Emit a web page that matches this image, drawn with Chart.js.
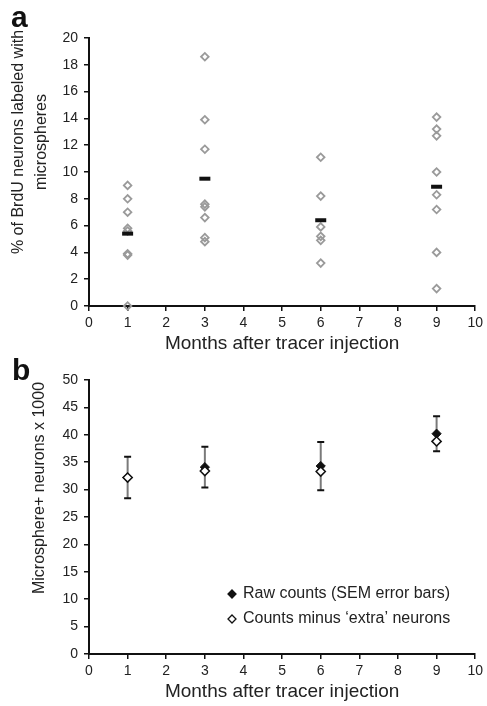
<!DOCTYPE html>
<html lang="en">
<head>
<meta charset="utf-8">
<title>Microsphere labeling after tracer injection</title>
<script src="https://cdn.jsdelivr.net/npm/chart.js@4.4.1/dist/chart.umd.min.js"></script>
<style>
  body { margin: 0; background: #fff; }
  #panelA { position: absolute; left: 0; top: 0; }
  #panelB { position: absolute; left: 0; top: 358px; }
</style>
</head>
<body>
<canvas id="panelA" width="487" height="358"></canvas>
<canvas id="panelB" width="487" height="348"></canvas>
<script>
// Months after tracer injection
const months = [1, 3, 6, 9];

// Panel a: % of BrdU neurons labeled with microspheres, one value per animal
const pctMonth1 = [9.0, 8.0, 7.0, 5.8, 5.6, 3.9, 3.8, 0];
const pctMonth3 = [18.6, 13.9, 11.7, 7.6, 7.4, 6.6, 5.1, 4.8];
const pctMonth6 = [11.1, 8.2, 5.9, 5.2, 4.9, 3.2];
const pctMonth9 = [14.1, 13.2, 12.7, 10.0, 8.3, 7.2, 4.0, 1.3];
const pctMeans = [5.4, 9.5, 6.4, 8.9];

// Panel b: microsphere+ neurons (x 1000)
const rawCounts = [32.2, 34.1, 34.3, 40.2];
const rawSem = [3.8, 3.7, 4.4, 3.2];
const correctedCounts = [32.2, 33.4, 33.3, 38.8];

const seriesLabels = ['Raw counts (SEM error bars)', 'Counts minus \u2018extra\u2019 neurons'];
const xTitle = 'Months after tracer injection';

const FONT = "'Liberation Sans', Arial, sans-serif";

function axis(min, max, step, extra) {
    return Object.assign({
        type: 'linear',
        min: min,
        max: max,
        ticks: { stepSize: step, color: '#222', font: { family: FONT, size: 14 }, padding: 4 },
        grid: { drawOnChartArea: false, drawTicks: true, tickLength: 5, color: '#111', lineWidth: 1.5 },
        border: { display: true, color: '#111', width: 2 }
    }, extra);
}

function xAxis() {
    return axis(0, 10, 1, {
        title: { display: true, text: xTitle, color: '#222', font: { family: FONT, size: 19 }, padding: { top: 0, bottom: 3 } },
        afterFit: function (scale) { scale.height = 52; }
    });
}

function yAxis(max, step) {
    return axis(0, max, step, {
        ticks: { stepSize: step, color: '#222', font: { family: FONT, size: 14 }, padding: 6 },
        afterFit: function (scale) { scale.width = 89; }
    });
}

// panel letter + rotated y title (placed off-centre like the original figure)
const panelText = {
    id: 'panelText',
    afterDraw(chart, args, opts) {
        const ctx = chart.ctx;
        ctx.save();
        ctx.fillStyle = '#111';
        ctx.font = 'bold 30px ' + FONT;
        ctx.fillText(opts.letter, opts.letterX, opts.letterY);
        ctx.fillStyle = '#222';
        ctx.font = '16px ' + FONT;
        ctx.translate(opts.titleX, opts.titleY);
        ctx.rotate(-Math.PI / 2);
        ctx.textAlign = 'center';
        ctx.textBaseline = 'middle';
        opts.title.forEach((line, i) => ctx.fillText(line, 0, i * 23));
        ctx.restore();
    }
};

// vertical SEM bars: grey stem, black caps
const errorBars = {
    id: 'errorBars',
    beforeDatasetsDraw(chart, args, opts) {
        if (!opts.centers) return;
        const { ctx, scales: { x, y } } = chart;
        ctx.save();
        ctx.lineWidth = 2;
        opts.centers.forEach((c, i) => {
            const px = x.getPixelForValue(opts.at[i]);
            const top = y.getPixelForValue(c + opts.sem[i]);
            const bot = y.getPixelForValue(c - opts.sem[i]);
            ctx.strokeStyle = '#7a7a7a';
            ctx.beginPath();
            ctx.moveTo(px, top);
            ctx.lineTo(px, bot);
            ctx.stroke();
            ctx.strokeStyle = '#111';
            ctx.beginPath();
            ctx.moveTo(px - 3.5, top); ctx.lineTo(px + 3.5, top);
            ctx.moveTo(px - 3.5, bot); ctx.lineTo(px + 3.5, bot);
            ctx.stroke();
        });
        ctx.restore();
    }
};

// legend sitting inside the plot area
const insideLegend = {
    id: 'insideLegend',
    afterDraw(chart, args, opts) {
        if (!opts.x) return;
        const ctx = chart.ctx;
        ctx.save();
        ctx.font = '16px ' + FONT;
        ctx.textBaseline = 'middle';
        chart.data.datasets.forEach((ds, i) => {
            const cy = opts.y + i * opts.gap;
            const r = 4;
            ctx.beginPath();
            ctx.moveTo(opts.x, cy - r);
            ctx.lineTo(opts.x + r, cy);
            ctx.lineTo(opts.x, cy + r);
            ctx.lineTo(opts.x - r, cy);
            ctx.closePath();
            ctx.fillStyle = ds.pointBackgroundColor;
            ctx.fill();
            ctx.lineWidth = 1.3;
            ctx.strokeStyle = ds.pointBorderColor;
            ctx.stroke();
            ctx.fillStyle = '#222';
            ctx.fillText(ds.label, opts.x + 11, cy);
        });
        ctx.restore();
    }
};

Chart.register(panelText, errorBars, insideLegend);

// ---- panel a ----
const pctByMonth = [pctMonth1, pctMonth3, pctMonth6, pctMonth9];
const animalPoints = [];
pctByMonth.forEach((vals, i) => vals.forEach(v => animalPoints.push({ x: months[i], y: v })));

new Chart(document.getElementById('panelA'), {
    type: 'scatter',
    data: {
        datasets: [{
            label: 'Mean',
            data: months.map((m, i) => ({ x: m, y: pctMeans[i] })),
            pointStyle: 'line',
            pointRadius: 5.5,
            pointBorderWidth: 4,
            pointBorderColor: '#111',
            order: 0,
            clip: false
        }, {
            label: 'Animals',
            data: animalPoints,
            pointStyle: 'rectRot',
            pointRadius: 3.8,
            pointBorderWidth: 1.8,
            pointBorderColor: '#9a9a9a',
            pointBackgroundColor: 'rgba(255,255,255,0)',
            order: 1,
            clip: false
        }]
    },
    options: {
        responsive: false,
        animation: false,
        events: [],
        layout: { padding: { top: 38, right: 6, bottom: 0, left: 0 } },
        plugins: {
            legend: { display: false },
            tooltip: { enabled: false },
            panelText: { letter: 'a', letterX: 11, letterY: 27, title: ['% of BrdU neurons labeled with', 'microspheres'], titleX: 19, titleY: 142 }
        },
        scales: { x: xAxis(), y: yAxis(20, 2) }
    }
});

// ---- panel b ----
new Chart(document.getElementById('panelB'), {
    type: 'scatter',
    data: {
        datasets: [{
            label: seriesLabels[0],
            data: months.map((m, i) => ({ x: m, y: rawCounts[i] })),
            pointStyle: 'rectRot',
            pointRadius: 4.6,
            pointBorderWidth: 1,
            pointBorderColor: '#111',
            pointBackgroundColor: '#111',
            order: 1,
            clip: false
        }, {
            label: seriesLabels[1],
            data: months.map((m, i) => ({ x: m, y: correctedCounts[i] })),
            pointStyle: 'rectRot',
            pointRadius: 4.6,
            pointBorderWidth: 1.5,
            pointBorderColor: '#111',
            pointBackgroundColor: '#fff',
            order: 0,
            clip: false
        }]
    },
    options: {
        responsive: false,
        animation: false,
        events: [],
        layout: { padding: { top: 22, right: 6, bottom: 0, left: 0 } },
        plugins: {
            legend: { display: false },
            tooltip: { enabled: false },
            panelText: { letter: 'b', letterX: 12, letterY: 22, title: ['Microsphere+ neurons x 1000'], titleX: 40, titleY: 130 },
            errorBars: { at: months, centers: rawCounts, sem: rawSem },
            insideLegend: { x: 232, y: 236, gap: 25 }
        },
        scales: { x: xAxis(), y: yAxis(50, 5) }
    }
});
</script>
</body>
</html>
